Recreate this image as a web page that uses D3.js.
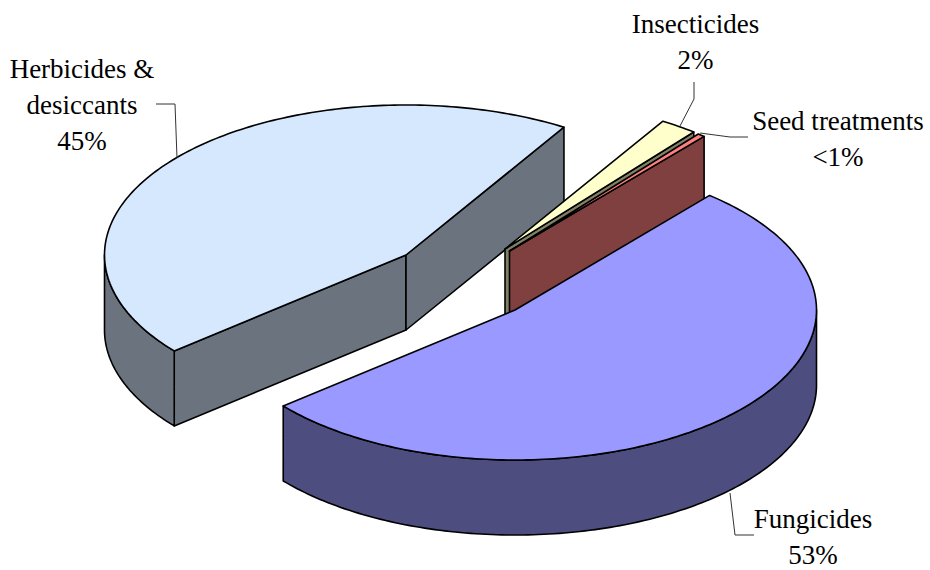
<!DOCTYPE html>
<html>

<head>
    <meta charset="utf-8">
    <title>Pesticide market shares</title>
    <script src="https://d3js.org/d3.v7.min.js"></script>
    <style>
        body { margin: 0; background: #fff; }
        text { font-family: "Liberation Serif", "Times New Roman", serif; font-size: 27px; fill: #000; text-anchor: middle; }
    </style>
</head>

<body>
    <svg id="canvas"></svg>
    <script>
        // Pie data, clockwise from the right-hand edge of the fungicides slice
        var categories = ["Fungicides", "Herbicides & desiccants", "Insecticides", "Seed treatments"];
        var shares = [53, 45, 2, 0.4];
        var nameLines = [["Fungicides"], ["Herbicides &", "desiccants"], ["Insecticides"], ["Seed treatments"]];

        var width = 930;
        var height = 570;

        // Pie shape on screen
        var rx = 301.5;
        var ry = 150;
        var depth = 75;
        var firstAngle = 40.2;

        // Where each slice's point ended up after being pulled out of the pie
        var apexes = [[515, 310], [406, 255], [505, 249], [509.5, 251]];
        var topColors = ["#9999ff", "#d5e8fd", "#ffffcc", "#ff8080"];
        var sideColors = ["#4d4d80", "#6b747e", "#808066", "#804040"];

        // Back slices get painted first, the fungicides go on top
        var paintOrder = [1, 2, 3, 0];

        // Label anchors (centre x, first baseline) and leader lines
        var labelAnchors = [[813, 527.5], [82, 77.5], [695.5, 32.5], [838, 129.5]];
        var lineStep = 36;
        var leaders = [
            [[730, 493], [735, 535], [754, 535]],
            [[156, 104], [175, 104], [177, 158]],
            [[694, 82], [694, 99], [680, 126]],
            [[700, 133], [730, 137], [748, 137]]
        ];

        var svg = d3.select("#canvas")
            .attr("width", width)
            .attr("height", height)
            .style("display", "block");

        var pie = d3.pie()
            .sort(null)
            .startAngle(firstAngle * Math.PI / 180)
            .endAngle((firstAngle + 360) * Math.PI / 180);

        var slices = pie(shares);
        var line = d3.line();

        function rimPoint(apex, t, drop) {
            return [apex[0] + rx * Math.sin(t), apex[1] - ry * Math.cos(t) + drop];
        }

        // angles from a to b in roughly one degree steps, b included
        function sweep(a, b) {
            var n = Math.max(1, Math.ceil(Math.abs(b - a) / (Math.PI / 180)));
            return d3.range(n + 1).map(function (i) { return a + (b - a) * i / n; });
        }

        function drawSlice(i) {
            var apex = apexes[i];
            var a0 = slices[i].startAngle;
            var a1 = slices[i].endAngle;
            var g = svg.append("g").attr("class", "slice");

            function side(points) {
                g.append("path")
                    .attr("d", line(points) + "Z")
                    .attr("fill", sideColors[i])
                    .attr("stroke", "#000")
                    .attr("stroke-width", 1.6)
                    .attr("stroke-linejoin", "round");
            }

            function wall(t) {
                side([
                    apex,
                    rimPoint(apex, t, 0),
                    rimPoint(apex, t, depth),
                    [apex[0], apex[1] + depth]
                ]);
            }

            // cut faces that turn towards the viewer
            if (Math.sin(a0) < 0) wall(a0);
            if (Math.sin(a1) > 0) wall(a1);

            // outer rim on the front half of the pie (90 to 270 degrees, also one turn on)
            [0, 2 * Math.PI].forEach(function (turn) {
                var from = Math.max(a0, Math.PI / 2 + turn);
                var to = Math.min(a1, 3 * Math.PI / 2 + turn);
                if (from < to) {
                    var top = sweep(from, to).map(function (t) { return rimPoint(apex, t, 0); });
                    var bottom = sweep(to, from).map(function (t) { return rimPoint(apex, t, depth); });
                    side(top.concat(bottom));
                }
            });

            // top face
            var outline = [apex].concat(sweep(a0, a1).map(function (t) { return rimPoint(apex, t, 0); }));
            g.append("path")
                .attr("d", line(outline) + "Z")
                .attr("fill", topColors[i])
                .attr("stroke", "#000")
                .attr("stroke-width", 1.6)
                .attr("stroke-linejoin", "round");
        }

        paintOrder.forEach(drawSlice);

        // leader lines
        svg.append("g")
            .selectAll("path")
            .data(leaders)
            .enter()
            .append("path")
            .attr("d", function (d) { return line(d); })
            .attr("fill", "none")
            .attr("stroke", "#333")
            .attr("stroke-width", 1);

        function shareLabel(v) {
            return v < 1 ? "<1%" : v + "%";
        }

        // labels: name lines, then the share underneath
        categories.forEach(function (name, i) {
            var rows = nameLines[i].concat([shareLabel(shares[i])]);
            svg.append("text")
                .attr("class", "label")
                .selectAll("tspan")
                .data(rows)
                .enter()
                .append("tspan")
                .attr("x", labelAnchors[i][0])
                .attr("y", function (d, j) { return labelAnchors[i][1] + j * lineStep; })
                .text(function (d) { return d; });
        });
    </script>
</body>

</html>
